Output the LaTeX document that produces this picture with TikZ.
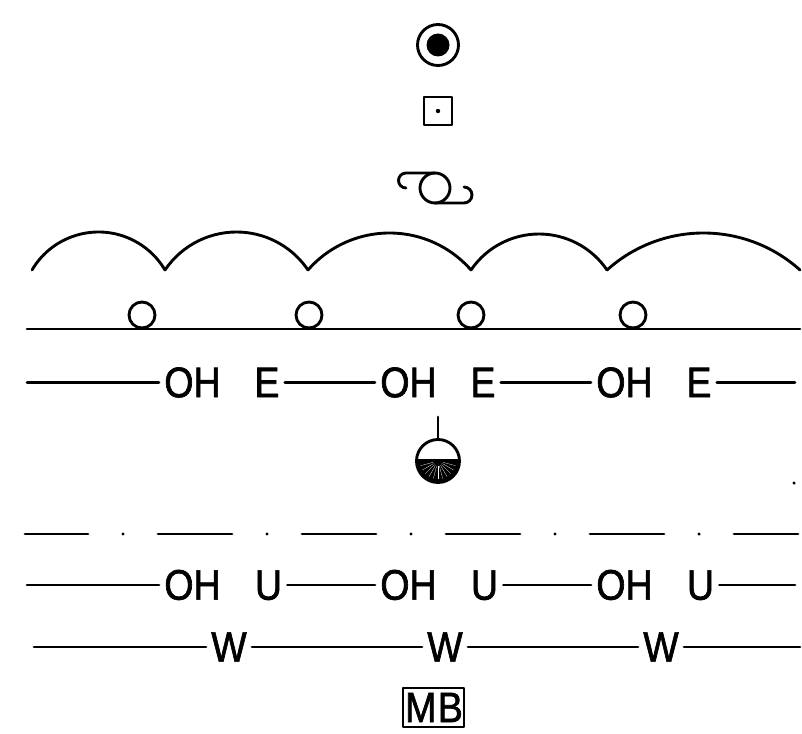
\documentclass[tikz,border=0pt]{standalone}
\usepackage{fontspec}
\newfontfamily\lblfont[FakeStretch=0.88,FakeBold=1.5]{Liberation Sans}
\tikzset{
  ln/.style={draw=black,line width=2.15pt,line cap=round,line join=round},
  lbl/.style={font=\lblfont\fontsize{32}{32}\selectfont,inner sep=0pt,outer sep=4pt,text height=22pt,text depth=0pt},
  ddot/.style={circle,fill=black,inner sep=0pt,minimum size=2.6pt}
}
\begin{document}
\begin{tikzpicture}[x=0.75pt,y=-0.75pt]
\useasboundingbox (0,0) rectangle (802,734);
% target
\draw[ln] (438,45) circle[radius=20.5];
\fill (438,45) circle[radius=11.5];
% dotted square
\draw[ln] (424,97) rectangle (452,125);
\fill (438,111) circle[radius=2.2];
% curled symbol
\draw[ln] (435,188) circle[radius=15];
\draw[ln] (435,173) -- (406,173) arc[start angle=-90,end angle=-270,radius=7.5];
\draw[ln] (435,203) -- (464,203) arc[start angle=90,end angle=-90,radius=8];
% humps
\foreach \a/\b/\h in {32/165/38,165/308/38,308/471/37,471/607/36,607/800/37}{
  \pgfmathsetmacro{\c}{(\b-\a)}
  \pgfmathsetmacro{\r}{(\c/2)*(\c/4)/\h+\h/2}
  \pgfmathsetmacro{\ha}{asin(\c/2/\r)}
  \draw[ln] (\a,270) arc[start angle=-90-\ha,end angle=-90+\ha,radius=\r];
}
% line with circles
\coordinate (la) at (27,329);
\coordinate (lb) at (800,329);
\draw[ln] (la) -- (lb);
\foreach \x in {142,309,471,633}{\draw[ln] (\x,315) circle[radius=13];}
% OH E row
\coordinate (r1a) at (27,382.5);
\coordinate (r1b) at (795,382.5);
\foreach \i/\x in {1/0,2/216,3/432}{
  \node[lbl] (oh\i) at (192.5+\x,382.5) {OH};
  \node[lbl] (e\i) at (267+\x,382.5) {E};
}
\draw[ln] (r1a) -- (oh1);
\draw[ln] (e1) -- (oh2);
\draw[ln] (e2) -- (oh3);
\draw[ln] (e3) -- (r1b);
% lamp
\draw[ln] (438,417) -- (438,439);
\draw[ln] (438,461) circle[radius=21.5];
\draw[ln] (416.5,460) -- (459.5,460);
\fill (416,460) arc[start angle=180,end angle=0,radius=22] -- cycle;
\foreach \ang in {15,30,...,165}{
  \draw[white,line width=0.2pt] (438,461) ++(\ang:5) -- ++(\ang:13);
}
% stray dot
\node[ddot] (sd) at (794,483) {};
% dashes
\foreach \p/\q in {25/88,158/232,302/376,446/520,590/664,734/798}{
  \draw[ln] (\p,534) -- (\q,534);
}
\foreach \x in {123,267,411,555,699}{\node[ddot] at (\x,534) {};}
% OH U row
\coordinate (r2a) at (27,585);
\coordinate (r2b) at (795,585);
\foreach \i/\x in {1/0,2/216,3/432}{
  \node[lbl] (oh-u\i) at (192.5+\x,585) {OH};
  \node[lbl] (u\i) at (268.5+\x,585) {U};
}
\draw[ln] (r2a) -- (oh-u1);
\draw[ln] (u1) -- (oh-u2);
\draw[ln] (u2) -- (oh-u3);
\draw[ln] (u3) -- (r2b);
% W row
\coordinate (r3a) at (34,647);
\coordinate (r3b) at (800,647);
\foreach \i/\x in {1/0,2/216,3/432}{
  \node[lbl] (w\i) at (229+\x,647) {W};
}
\draw[ln] (r3a) -- (w1);
\draw[ln] (w1) -- (w2);
\draw[ln] (w2) -- (w3);
\draw[ln] (w3) -- (r3b);
% MB
\draw[ln] (403,688) rectangle (464,727);
\node[lbl,outer sep=0pt] (mb) at (434,707.5) {M\kern1pt B};
\end{tikzpicture}
\end{document}
